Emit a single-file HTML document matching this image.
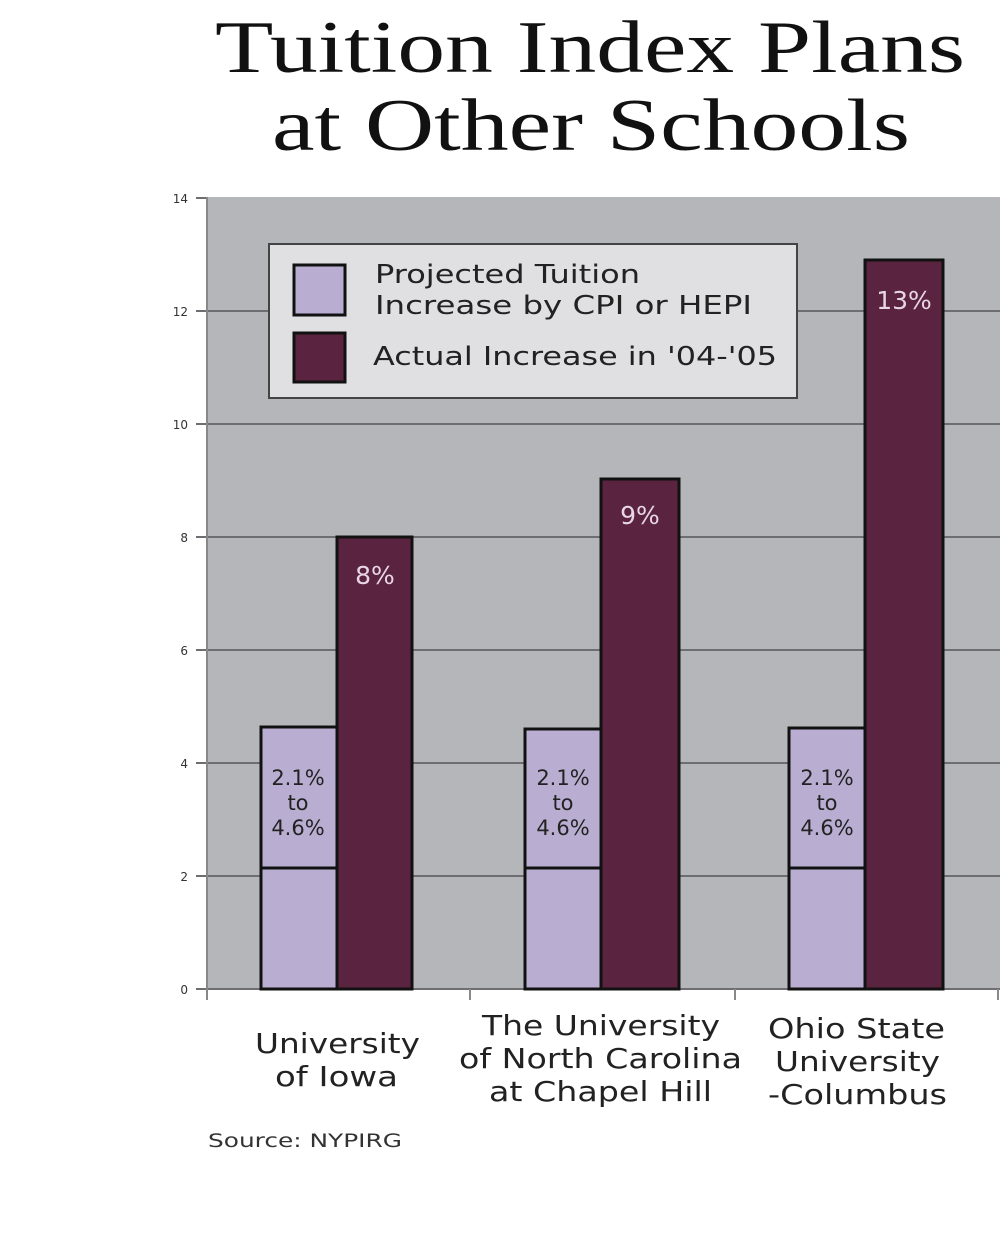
<!DOCTYPE html>
<html><head><style>body{margin:0;background:#fff}svg{display:block}</style></head><body>
<svg width="1000" height="1259" viewBox="0 0 1000 1259" xmlns="http://www.w3.org/2000/svg">
<rect width="1000" height="1259" fill="#fff"/>
<g font-family="Liberation Serif, serif" font-size="74" fill="#111">
<text x="215" y="72" textLength="750" lengthAdjust="spacingAndGlyphs">Tuition Index Plans</text>
<text x="272" y="150" textLength="638" lengthAdjust="spacingAndGlyphs">at Other Schools</text>
</g>
<rect x="206" y="197" width="794" height="792" fill="#b5b6ba"/>
<g stroke="#6e6e72" stroke-width="2">
<line x1="206" y1="311" x2="1000" y2="311"/>
<line x1="206" y1="424" x2="1000" y2="424"/>
<line x1="206" y1="537" x2="1000" y2="537"/>
<line x1="206" y1="650" x2="1000" y2="650"/>
<line x1="206" y1="763" x2="1000" y2="763"/>
<line x1="206" y1="876" x2="1000" y2="876"/>
<line x1="196" y1="989" x2="1000" y2="989"/>
<line x1="196" y1="198" x2="206" y2="198"/>
<line x1="196" y1="311" x2="206" y2="311"/>
<line x1="196" y1="424" x2="206" y2="424"/>
<line x1="196" y1="537" x2="206" y2="537"/>
<line x1="196" y1="650" x2="206" y2="650"/>
<line x1="196" y1="763" x2="206" y2="763"/>
<line x1="196" y1="876" x2="206" y2="876"/>
<line x1="207" y1="197" x2="207" y2="1000" stroke="#888"/>
<line x1="470" y1="989" x2="470" y2="1000" stroke="#888"/>
<line x1="735" y1="989" x2="735" y2="1000" stroke="#888"/>
<line x1="998" y1="989" x2="998" y2="1000" stroke="#888"/>
</g>
<g font-family="DejaVu Sans, sans-serif" font-size="12" fill="#333" text-anchor="end">
<text x="188" y="203">14</text><text x="188" y="316">12</text><text x="188" y="429">10</text>
<text x="188" y="542">8</text><text x="188" y="655">6</text><text x="188" y="768">4</text>
<text x="188" y="881">2</text><text x="188" y="994">0</text>
</g>
<g stroke="#111" stroke-width="3">
<rect x="261" y="727" width="76" height="262" fill="#b9aed2"/>
<line x1="261" y1="868" x2="337" y2="868"/>
<rect x="337" y="537" width="75" height="452" fill="#5a2340"/>
<rect x="525" y="729" width="76" height="260" fill="#b9aed2"/>
<line x1="525" y1="868" x2="601" y2="868"/>
<rect x="601" y="479" width="78" height="510" fill="#5a2340"/>
<rect x="789" y="728" width="76" height="261" fill="#b9aed2"/>
<line x1="789" y1="868" x2="865" y2="868"/>
<rect x="865" y="260" width="78" height="729" fill="#5a2340"/>
</g>
<g font-family="DejaVu Sans, sans-serif" font-size="25" fill="#e8d6e2" text-anchor="middle">
<text x="375" y="584">8%</text><text x="640" y="524">9%</text><text x="904" y="309">13%</text>
</g>
<g font-family="DejaVu Sans, sans-serif" font-size="21" fill="#222" text-anchor="middle">
<text x="298" y="785">2.1%</text><text x="298" y="810">to</text><text x="298" y="835">4.6%</text>
<text x="563" y="785">2.1%</text><text x="563" y="810">to</text><text x="563" y="835">4.6%</text>
<text x="827" y="785">2.1%</text><text x="827" y="810">to</text><text x="827" y="835">4.6%</text>
</g>
<rect x="269" y="244" width="528" height="154" fill="#e0e0e2" stroke="#444" stroke-width="2"/>
<rect x="294" y="265" width="51" height="50" fill="#b9aed2" stroke="#111" stroke-width="3"/>
<rect x="294" y="333" width="51" height="49" fill="#5a2340" stroke="#111" stroke-width="3"/>
<g font-family="DejaVu Sans, sans-serif" font-size="26" fill="#222">
<text x="375" y="283" textLength="265" lengthAdjust="spacingAndGlyphs">Projected Tuition</text>
<text x="375" y="314" textLength="377" lengthAdjust="spacingAndGlyphs">Increase by CPI or HEPI</text>
<text x="373" y="365" textLength="404" lengthAdjust="spacingAndGlyphs">Actual Increase in '04-'05</text>
</g>
<g font-family="DejaVu Sans, sans-serif" font-size="28" fill="#222">
<text x="255" y="1053" textLength="165" lengthAdjust="spacingAndGlyphs">University</text>
<text x="275" y="1086" textLength="123" lengthAdjust="spacingAndGlyphs">of Iowa</text>
<text x="482" y="1035" textLength="238" lengthAdjust="spacingAndGlyphs">The University</text>
<text x="459" y="1068" textLength="283" lengthAdjust="spacingAndGlyphs">of North Carolina</text>
<text x="489" y="1101" textLength="223" lengthAdjust="spacingAndGlyphs">at Chapel Hill</text>
<text x="768" y="1038" textLength="177" lengthAdjust="spacingAndGlyphs">Ohio State</text>
<text x="775" y="1071" textLength="165" lengthAdjust="spacingAndGlyphs">University</text>
<text x="768" y="1104" textLength="179" lengthAdjust="spacingAndGlyphs">-Columbus</text>
</g>
<text x="208" y="1147" font-family="DejaVu Sans, sans-serif" font-size="19" fill="#333" textLength="194" lengthAdjust="spacingAndGlyphs">Source: NYPIRG</text>
</svg>
</body></html>
